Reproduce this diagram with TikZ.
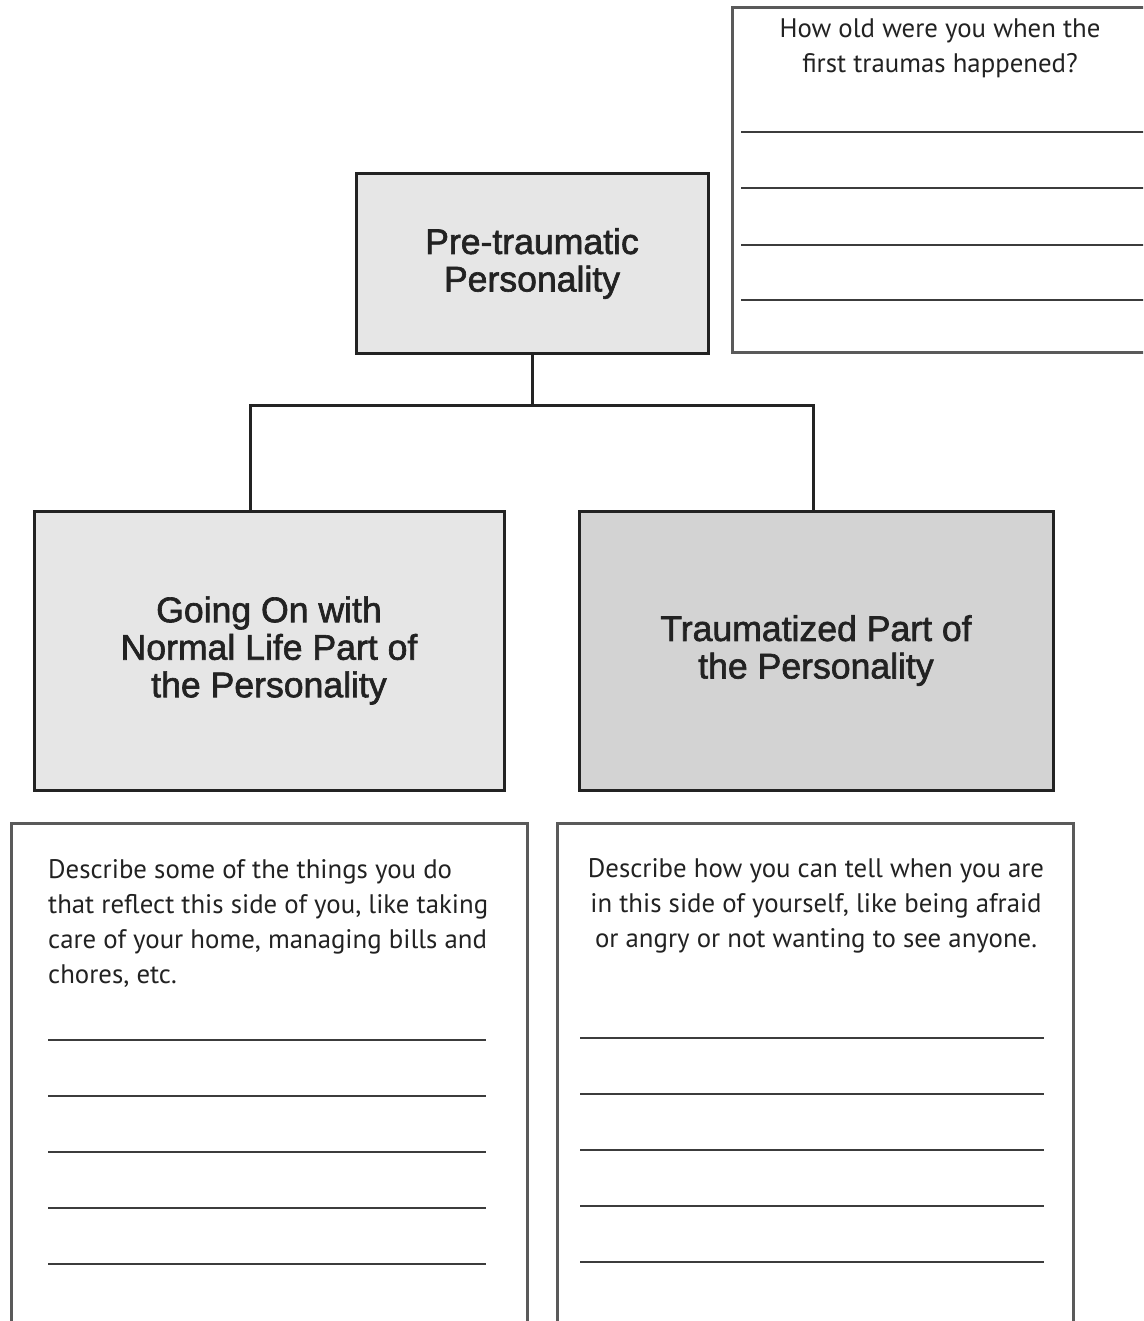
\documentclass[tikz,border=0pt]{standalone}
\usepackage{fontspec}
\setmainfont{PT Sans}
\newfontfamily\headfont[BoldFont={Liberation Sans}, BoldFeatures={FakeBold=1.8}]{Liberation Sans}
\usetikzlibrary{calc}

\definecolor{boxedge}{HTML}{232323}
\definecolor{paleFill}{HTML}{E6E6E6}
\definecolor{darkFill}{HTML}{D3D3D3}
\definecolor{formedge}{HTML}{5A5A5A}
\definecolor{ruleline}{HTML}{3C3C3C}
\definecolor{inktext}{HTML}{222222}

\tikzset{
  partbox/.style={draw=boxedge, line width=3pt, rectangle, inner sep=0pt,
    align=center, text=inktext, font=\headfont\bfseries\fontsize{35.6}{37.5}\selectfont},
  formbox/.style={draw=formedge, line width=3pt, rectangle, inner sep=0pt},
  writeline/.style={draw=ruleline, line width=1.6pt},
  prompt/.style={inner sep=0pt, text=inktext, font=\fontsize{26.8}{35}\selectfont},
  link/.style={draw=boxedge, line width=3pt},
}

\begin{document}
\begin{tikzpicture}[x=1pt, y=-1pt]
  \useasboundingbox (0,0) rectangle (1143,1321);
  \clip (0,0) rectangle (1143,1321);
  \fill[white] (0,0) rectangle (1143,1321);

  % hierarchy of the personality
  \node[partbox, fill=paleFill, minimum width=352pt, minimum height=179pt]
    (pre) at (532,263.5) {Pre-traumatic\\Personality};
  \node[partbox, fill=paleFill, minimum width=470pt, minimum height=279pt]
    (normal) at (269,650.5) {Going On with\\Normal Life Part of\\the Personality};
  \node[partbox, fill=darkFill, minimum width=474pt, minimum height=279pt]
    (trauma) at (816,650.5) {Traumatized Part of\\the Personality};

  % branching connector
  \coordinate (split) at (532,405);
  \coordinate (jl) at (250,405);
  \coordinate (jr) at (813,405);
  \draw[link] (pre.south) -- (split);
  \draw[link, line cap=rect] (jl) -- (jr);
  \draw[link] (jl) -- (jl |- normal.north);
  \draw[link] (jr) -- (jr |- trauma.north);

  % question about age (base anchor sits on the last line)
  \node[formbox, minimum width=428pt, minimum height=344pt] (agebox) at (946,180) {};
  \node[prompt, align=center, anchor=base] (ageq) at (940,73)
    {How old were you when the\\first traumas happened?};
  \foreach \y in {132,188,245,300}
    \draw[writeline] (741,\y) -- (1150,\y);

  % prompt for the everyday part
  \node[formbox, minimum width=516pt, minimum height=537pt] (normalform) at (269,1091.5) {};
  \node[prompt, align=left, anchor=base west] (normalq) at (48,983)
    {Describe some of the things you do\\that reflect this side of you, like taking\\care of your home, managing bills and\\chores, etc.};
  \foreach \y in {1040,1096,1152,1208,1264}
    \draw[writeline] (48,\y) -- (486,\y);

  % prompt for the traumatized part
  \node[formbox, minimum width=516pt, minimum height=537pt] (traumaform) at (815,1091.5) {};
  \node[prompt, align=center, anchor=base] (traumaq) at (816,947)
    {Describe how you can tell when you are\\in this side of yourself, like being afraid\\or angry or not wanting to see anyone.};
  \foreach \y in {1038,1094,1150,1206,1262}
    \draw[writeline] (580,\y) -- (1044,\y);
\end{tikzpicture}
\end{document}
